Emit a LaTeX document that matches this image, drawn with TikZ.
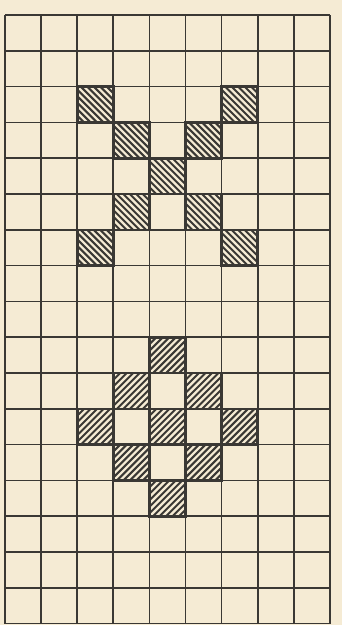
\documentclass[tikz,border=0pt]{standalone}
\begin{document}
\begin{tikzpicture}[x=1pt,y=-1pt,
  gridline/.style={draw=ink,line width=1.7pt},
  hatchline/.style={draw=ink,line width=2pt},
  cellborder/.style={draw=ink,line width=2.6pt}]
\definecolor{paper}{HTML}{F5EBD4}
\definecolor{ink}{HTML}{3A3834}
\fill[paper] (0,0) rectangle (342,625);
\useasboundingbox (0,0) rectangle (342,625);
% hatched cells, top (\ direction)
\foreach \c/\r in {2/2,6/2,3/3,5/3,4/4,3/5,5/5,2/6,6/6}{
  \pgfmathsetmacro\xa{5+36.1*\c}
  \pgfmathsetmacro\ya{15+35.8*\r}
  \begin{scope}
    \clip (\xa,\ya) rectangle ++(36.1,35.8);
    \foreach \t in {-42,-35.5,...,42}{
      \draw[hatchline] (\xa+\t,\ya) -- ++(36,36);
    }
  \end{scope}
  \draw[cellborder] (\xa,\ya) rectangle ++(36.1,35.8);
}
% hatched cells, bottom (/ direction)
\foreach \c/\r in {4/9,3/10,5/10,2/11,4/11,6/11,3/12,5/12,4/13}{
  \pgfmathsetmacro\xa{5+36.1*\c}
  \pgfmathsetmacro\ya{15+35.8*\r}
  \begin{scope}
    \clip (\xa,\ya) rectangle ++(36.1,35.8);
    \foreach \t in {-42,-35.5,...,42}{
      \draw[hatchline] (\xa+\t,\ya+36) -- ++(36,-36);
    }
  \end{scope}
  \draw[cellborder] (\xa,\ya) rectangle ++(36.1,35.8);
}
% grid
\foreach \i in {0,...,9}{
  \draw[gridline] (5+36.1*\i,15) -- (5+36.1*\i,623.6);
}
\foreach \j in {0,...,17}{
  \draw[gridline] (5,15+35.8*\j) -- (329.9,15+35.8*\j);
}
\end{tikzpicture}
\end{document}
